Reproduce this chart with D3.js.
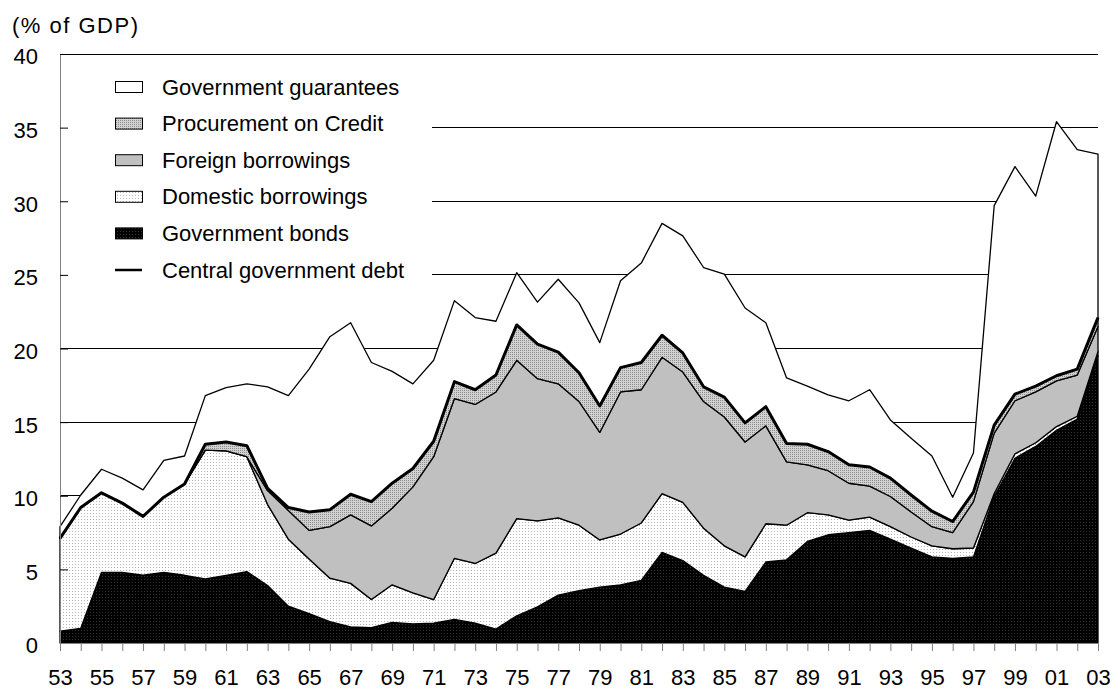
<!DOCTYPE html>
<html>
<head>
<meta charset="utf-8">
<script src="https://cdn.jsdelivr.net/npm/d3@7"></script>
<style>
  body { margin: 0; background: #fff; }
  svg { display: block; font-family: "Liberation Sans", Arial, sans-serif; }
</style>
</head>
<body>
<svg id="chart"></svg>
<script>
const years = [
  1953, 1954, 1955, 1956, 1957, 1958, 1959, 1960, 1961, 1962,
  1963, 1964, 1965, 1966, 1967, 1968, 1969, 1970, 1971, 1972,
  1973, 1974, 1975, 1976, 1977, 1978, 1979, 1980, 1981, 1982,
  1983, 1984, 1985, 1986, 1987, 1988, 1989, 1990, 1991, 1992,
  1993, 1994, 1995, 1996, 1997, 1998, 1999, 2000, 2001, 2002, 2003,
];

// % of GDP, one value per year
const governmentBonds = [
  0.8, 1.0, 4.8, 4.8, 4.6, 4.8, 4.6, 4.35, 4.6, 4.85,
  3.9, 2.5, 2.0, 1.45, 1.1, 1.05, 1.4, 1.3, 1.35, 1.6,
  1.35, 0.95, 1.85, 2.45, 3.25, 3.55, 3.8, 3.95, 4.25, 6.15,
  5.6, 4.6, 3.8, 3.5, 5.5, 5.65, 6.9, 7.35, 7.5, 7.65,
  7.05, 6.45, 5.85, 5.75, 5.85, 9.95, 12.55, 13.35, 14.45, 15.2, 19.5,
];
const domesticBorrowings = [
  6.3, 8.2, 5.4, 4.7, 4.0, 5.1, 6.2, 8.75, 8.45, 7.8,
  5.5, 4.55, 3.7, 2.95, 2.95, 1.9, 2.55, 2.1, 1.6, 4.15,
  4.05, 5.15, 6.6, 5.85, 5.25, 4.45, 3.2, 3.45, 3.9, 4.0,
  3.95, 3.2, 2.8, 2.35, 2.6, 2.35, 1.95, 1.35, 0.85, 0.9,
  0.85, 0.75, 0.75, 0.65, 0.6, 0.2, 0.3, 0.25, 0.25, 0.2, 0.3,
];
const foreignBorrowings = [
  0, 0, 0, 0, 0, 0, 0, 0, 0, 0,
  0.95, 1.95, 1.95, 3.5, 4.65, 5.0, 5.2, 7.2, 9.7, 10.85,
  10.8, 10.95, 10.75, 9.65, 9.1, 8.4, 7.3, 9.65, 9.05, 9.25,
  8.85, 8.6, 8.75, 7.8, 6.65, 4.3, 3.25, 3.0, 2.5, 2.1,
  2.05, 1.7, 1.3, 1.1, 3.15, 4.1, 3.6, 3.45, 3.1, 2.8, 1.7,
];
const procurementOnCredit = [
  0, 0, 0, 0, 0, 0, 0, 0.4, 0.6, 0.75,
  0.15, 0.2, 1.25, 1.15, 1.4, 1.65, 1.7, 1.25, 1.05, 1.15,
  1.0, 1.15, 2.4, 2.35, 2.15, 1.95, 1.8, 1.65, 1.85, 1.5,
  1.3, 1.0, 1.35, 1.3, 1.3, 1.25, 1.4, 1.3, 1.25, 1.3,
  1.25, 1.15, 1.05, 0.75, 0.65, 0.55, 0.45, 0.4, 0.35, 0.4, 0.6,
];
const governmentGuarantees = [
  0.8, 0.85, 1.6, 1.7, 1.8, 2.5, 1.9, 3.3, 3.7, 4.2,
  6.9, 7.6, 9.7, 11.75, 11.65, 9.45, 7.6, 5.75, 5.5, 5.5,
  4.9, 3.65, 3.55, 2.85, 4.95, 4.75, 4.3, 5.9, 6.75, 7.6,
  7.95, 8.1, 8.35, 7.8, 5.7, 4.45, 3.95, 3.85, 4.35, 5.25,
  3.95, 3.85, 3.75, 1.65, 2.65, 14.9, 15.45, 12.9, 17.25, 14.9, 11.1,
];

const yTicks = [0, 5, 10, 15, 20, 25, 30, 35, 40];
const layerKeys = ["bonds", "domestic", "foreign", "procurement", "guarantees"];
const legendItems = [
  { label: "Government guarantees", fill: "#fff" },
  { label: "Procurement on Credit", fill: "url(#patProc)" },
  { label: "Foreign borrowings", fill: "#c0c0c0" },
  { label: "Domestic borrowings", fill: "url(#patDom)" },
  { label: "Government bonds", fill: "url(#patBond)" },
  { label: "Central government debt", line: true },
];

const width = 1114;
const height = 691;
const plot = { left: 60, right: 1098, top: 54, bottom: 643 };
const fontSize = 22;

const rows = years.map((y, i) => ({
  year: y,
  bonds: governmentBonds[i],
  domestic: domesticBorrowings[i],
  foreign: foreignBorrowings[i],
  procurement: procurementOnCredit[i],
  guarantees: governmentGuarantees[i],
}));

const svg = d3.select("#chart").attr("width", width).attr("height", height);

// fill patterns
const defs = svg.append("defs");
const patBond = defs.append("pattern").attr("id", "patBond")
  .attr("width", 3).attr("height", 3).attr("patternUnits", "userSpaceOnUse");
patBond.append("rect").attr("width", 3).attr("height", 3).attr("fill", "#000");
patBond.append("rect").attr("width", 1).attr("height", 1).attr("fill", "#333");

const patDom = defs.append("pattern").attr("id", "patDom")
  .attr("width", 3).attr("height", 3).attr("patternUnits", "userSpaceOnUse");
patDom.append("rect").attr("width", 3).attr("height", 3).attr("fill", "#fff");
patDom.append("rect").attr("width", 1).attr("height", 1).attr("fill", "#b4b4b4");

const patProc = defs.append("pattern").attr("id", "patProc")
  .attr("width", 2).attr("height", 2).attr("patternUnits", "userSpaceOnUse");
patProc.append("rect").attr("width", 2).attr("height", 2).attr("fill", "#d2d2d2");
patProc.append("rect").attr("width", 1).attr("height", 1).attr("fill", "#8c8c8c");

const layerFill = {
  bonds: "url(#patBond)",
  domestic: "url(#patDom)",
  foreign: "#c0c0c0",
  procurement: "url(#patProc)",
  guarantees: "#fff",
};

const x = d3.scaleLinear()
  .domain([years[0], years[years.length - 1]])
  .range([plot.left, plot.right]);
const y = d3.scaleLinear().domain([0, 40]).range([plot.bottom, plot.top]);

// gridlines (behind everything)
const grid = svg.append("g").attr("class", "grid");
grid.selectAll("line")
  .data(yTicks.filter((t) => t > 0))
  .join("line")
  .attr("x1", plot.left)
  .attr("x2", plot.right)
  .attr("y1", (d) => y(d))
  .attr("y2", (d) => y(d))
  .attr("stroke", "#000")
  .attr("stroke-width", 1)
  .attr("shape-rendering", "crispEdges");

// legend background hides the gridlines behind it
svg.append("rect")
  .attr("x", 61).attr("y", 62)
  .attr("width", 371).attr("height", 228)
  .attr("fill", "#fff");

// stacked areas
const series = d3.stack().keys(layerKeys)(rows);

const area = d3.area()
  .x((d) => x(d.data.year))
  .y0((d) => y(d[0]))
  .y1((d) => y(d[1]));

const areas = svg.append("g").attr("class", "areas");
areas.selectAll("path")
  .data(series)
  .join("path")
  .attr("d", area)
  .attr("fill", (d) => layerFill[d.key])
  .attr("stroke", "#000")
  .attr("stroke-width", 1.3)
  .attr("stroke-linejoin", "round");

// central government debt = top of procurement layer
const debtLine = d3.line()
  .x((d) => x(d.data.year))
  .y((d) => y(d[1]));

svg.append("path")
  .attr("d", debtLine(series[3]))
  .attr("fill", "none")
  .attr("stroke", "#000")
  .attr("stroke-width", 3)
  .attr("stroke-linejoin", "round");

// axes
const yAxis = d3.axisLeft(y)
  .tickValues(yTicks)
  .tickSizeInner(-8)
  .tickSizeOuter(0)
  .tickPadding(22);

const yAxisG = svg.append("g")
  .attr("transform", `translate(${plot.left},0)`)
  .call(yAxis);
yAxisG.select(".domain").attr("stroke", "#808080");
yAxisG.selectAll(".tick line").attr("stroke", "#000");
yAxisG.selectAll(".tick text")
  .attr("dy", "0.45em")
  .attr("fill", "#000")
  .style("font-size", fontSize + "px");

const xAxis = d3.axisBottom(x)
  .tickValues(years)
  .tickSize(8)
  .tickSizeOuter(0)
  .tickPadding(18)
  .tickFormat((d) => (d % 2 === 1 ? String(d % 100).padStart(2, "0") : ""));

const xAxisG = svg.append("g")
  .attr("transform", `translate(0,${y(0)})`)
  .call(xAxis);
xAxisG.select(".domain").attr("stroke", "#808080");
xAxisG.selectAll(".tick line").attr("stroke", "#808080");
xAxisG.selectAll(".tick text")
  .attr("fill", "#000")
  .style("font-size", fontSize + "px");

// unit label
svg.append("text")
  .attr("x", 12)
  .attr("y", 33)
  .style("font-size", fontSize + "px")
  .style("letter-spacing", "1.5px")
  .text("(% of GDP)");

// legend
const legend = svg.append("g");
const rowGap = 36.6;
legendItems.forEach((item, i) => {
  const cy = 87 + i * rowGap;
  if (item.line) {
    legend.append("line")
      .attr("x1", 115).attr("x2", 142)
      .attr("y1", cy).attr("y2", cy)
      .attr("stroke", "#000")
      .attr("stroke-width", 2.5);
  } else {
    legend.append("rect")
      .attr("x", 115.5).attr("y", cy - 5.5)
      .attr("width", 27).attr("height", 11)
      .attr("fill", item.fill)
      .attr("stroke", "#000")
      .attr("stroke-width", 1);
  }
  legend.append("text")
    .attr("x", 162)
    .attr("y", cy + 7.5)
    .style("font-size", fontSize + "px")
    .text(item.label);
});
</script>
</body>
</html>
